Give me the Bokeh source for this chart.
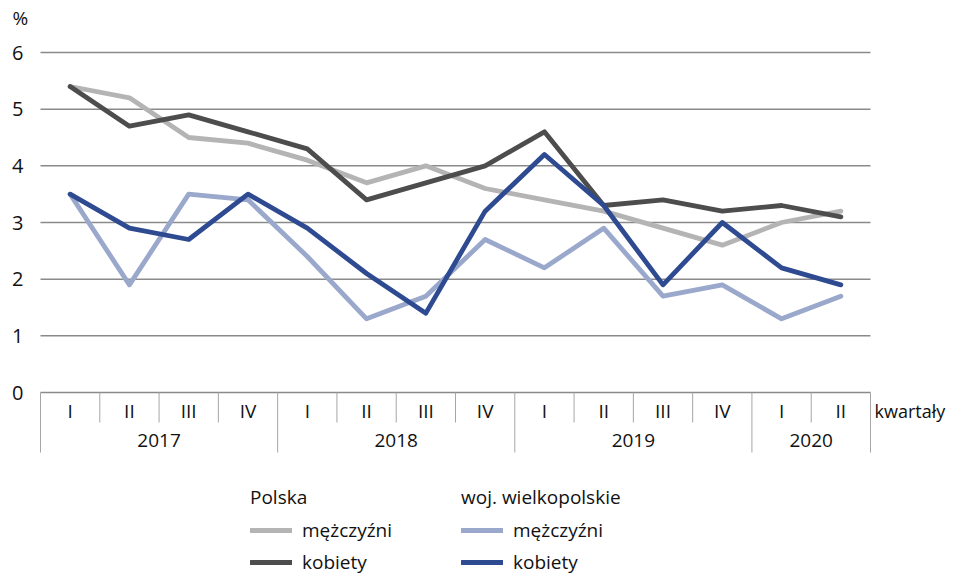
from bokeh.plotting import figure
from bokeh.models import Range1d, Legend, LegendItem, ColumnDataSource
from bokeh.core.properties import value
from bokeh.embed import file_html
from bokeh.resources import INLINE

# ---- data ----
quarters = ["I", "II", "III", "IV", "I", "II", "III", "IV", "I", "II", "III", "IV", "I", "II"]
years = ["2017", "2018", "2019", "2020"]
year_counts = [4, 4, 4, 2]
y_ticks = [0, 1, 2, 3, 4, 5, 6]

pl_men = [5.4, 5.2, 4.5, 4.4, 4.1, 3.7, 4.0, 3.6, 3.4, 3.2, 2.9, 2.6, 3.0, 3.2]
pl_women = [5.4, 4.7, 4.9, 4.6, 4.3, 3.4, 3.7, 4.0, 4.6, 3.3, 3.4, 3.2, 3.3, 3.1]
wlkp_men = [3.5, 1.9, 3.5, 3.4, 2.4, 1.3, 1.7, 2.7, 2.2, 2.9, 1.7, 1.9, 1.3, 1.7]
wlkp_women = [3.5, 2.9, 2.7, 3.5, 2.9, 2.1, 1.4, 3.2, 4.2, 3.3, 1.9, 3.0, 2.2, 1.9]

# ---- layout constants ----
W, H = 947, 579
LEFT_PX = 40          # frame x of category start
N = len(quarters)
PX_X = 830 / N
ZERO_PX = 392         # figure y (from top) of value 0
PX_Y = 340 / 6

FONT = "Open Sans"
TXT = "#111111"
FS = "19px"

x_range = Range1d(start=-LEFT_PX / PX_X, end=(W - LEFT_PX) / PX_X)
y_range = Range1d(start=-(H - ZERO_PX) / PX_Y, end=ZERO_PX / PX_Y)

p = figure(width=W, height=H, x_range=x_range, y_range=y_range,
           output_backend="svg", toolbar_location=None, min_border=0,
           x_axis_location=None, y_axis_location=None, outline_line_color=None)
p.grid.visible = False

def dy(px):
    return px / PX_Y

def dx(px):
    return px / PX_X

# grid lines
p.segment(x0=[0] * len(y_ticks), x1=[N] * len(y_ticks), y0=y_ticks, y1=y_ticks,
          line_color="#8a8a8a", line_width=1.5)
# y tick labels
p.text(x=[-dx(17)] * len(y_ticks), y=y_ticks, text=[str(t) for t in y_ticks],
       text_align="right", text_baseline="middle", text_font=value(FONT),
       text_font_size=value("20px"), text_color=TXT)
p.text(x=[-dx(28)], y=[max(y_ticks) + dy(35)], text=["%"], text_align="left",
       text_baseline="middle", text_font=value(FONT), text_font_size=value(FS),
       text_color=TXT)

# category separators
xs = list(range(N + 1))
year_bounds = [0]
for c in year_counts:
    year_bounds.append(year_bounds[-1] + c)
q_sep = [x for x in xs if x not in year_bounds]
p.segment(x0=q_sep, x1=q_sep, y0=[0] * len(q_sep), y1=[-dy(30)] * len(q_sep),
          line_color="#a6a6a6", line_width=1)
p.segment(x0=year_bounds, x1=year_bounds, y0=[0] * len(year_bounds),
          y1=[-dy(60)] * len(year_bounds), line_color="#a6a6a6", line_width=1)

centers = [i + 0.5 for i in range(N)]
p.text(x=centers, y=[-dy(18)] * N, text=quarters, text_align="center",
       text_baseline="middle", text_font=value(FONT), text_font_size=value(FS),
       text_color=TXT)
year_centers = [(year_bounds[i] + year_bounds[i + 1]) / 2 for i in range(len(years))]
p.text(x=year_centers, y=[-dy(48)] * len(years), text=years, text_align="center",
       text_baseline="middle", text_font=value(FONT), text_font_size=value(FS),
       text_color=TXT)
p.text(x=[N + dx(4)], y=[-dy(18)], text=["kwartały"], text_align="left",
       text_baseline="middle", text_font=value(FONT), text_font_size=value("18px"),
       text_color=TXT)

# series
src = ColumnDataSource(dict(x=centers, pm=pl_men, pk=pl_women, wm=wlkp_men, wk=wlkp_women))
kw = dict(line_width=4.8, line_join="round", line_cap="round")
r1 = p.line("x", "pm", source=src, line_color="#b4b4b4", **kw)
r2 = p.line("x", "pk", source=src, line_color="#4d4d4d", **kw)
r3 = p.line("x", "wm", source=src, line_color="#9aa8cc", **kw)
r4 = p.line("x", "wk", source=src, line_color="#2e4a90", **kw)

def make_legend(title, items, x):
    lg = Legend(items=items, title=title, location=(x, 4), orientation="vertical",
                glyph_width=42, glyph_height=22, label_height=22, label_standoff=10,
                spacing=6, padding=0, margin=0, border_line_color=None,
                background_fill_alpha=0, label_text_font=FONT,
                label_text_font_size=FS, label_text_color=TXT,
                title_text_font=FONT, title_text_font_size=FS,
                title_text_font_style="normal", title_text_color=TXT,
                title_standoff=7)
    return lg

leg1 = make_legend("Polska", [LegendItem(label="mężczyźni", renderers=[r1]),
                              LegendItem(label="kobiety", renderers=[r2])], 250)
leg2 = make_legend("woj. wielkopolskie", [LegendItem(label="mężczyźni", renderers=[r3]),
                                          LegendItem(label="kobiety", renderers=[r4])], 461)
p.add_layout(leg1)
p.add_layout(leg2)

open("out.html", "w").write(file_html(p, INLINE))
